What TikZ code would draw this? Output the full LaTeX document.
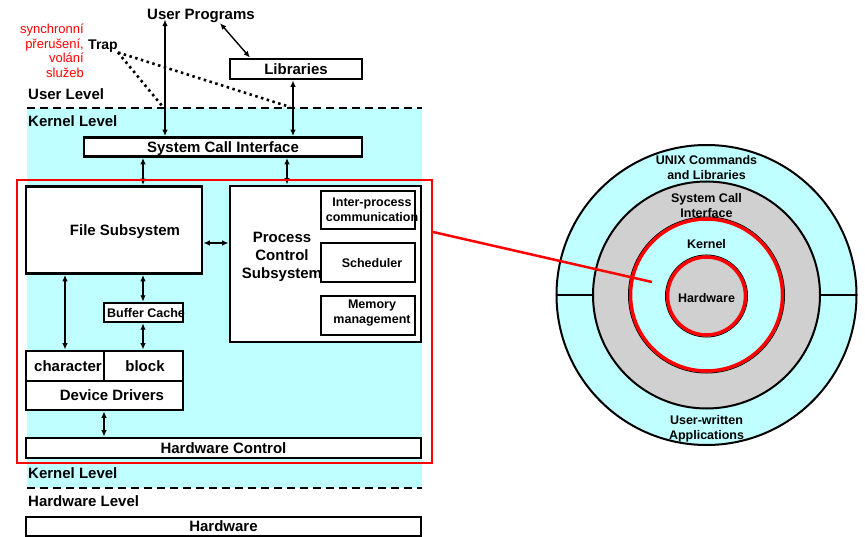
\documentclass[tikz,border=0pt]{standalone}
\usepackage{fontspec}
\setmainfont{Liberation Sans}
\usetikzlibrary{arrows.meta}
\definecolor{kcyan}{RGB}{192,255,255}
\definecolor{kgray}{RGB}{208,208,208}
\definecolor{kred}{RGB}{255,0,0}
\begin{document}
\begin{tikzpicture}[x=1pt,y=-1pt,
  lbl/.style={inner sep=0pt, font=\bfseries\fontsize{15}{18}\selectfont, text height=10.8pt, text depth=0pt},
  lvl/.style={lbl, anchor=west},
  small/.style={inner sep=0pt, font=\bfseries\fontsize{12.5}{15}\selectfont, align=center},
  box/.style={draw, line width=2.8pt, fill=white, inner sep=0pt, font=\bfseries\fontsize{15}{18}\selectfont, text height=10.8pt, text depth=0pt},
  thinbox/.style={draw, line width=1.3pt, fill=white, inner sep=0pt},
  dar/.style={line width=1.4pt, {Latex[length=6.5pt,width=5.5pt]}-{Latex[length=6.5pt,width=5.5pt]}},
  levelline/.style={dash pattern=on 8pt off 5pt, line width=2.6pt},
  trapline/.style={dash pattern=on 2.5pt off 3.5pt, line width=2.6pt},
]
\useasboundingbox (0,0) rectangle (865,537);

% kernel-level background
\fill[kcyan] (27,108) rectangle (422,488);
\draw[levelline] (27,108) -- (422,108);
\draw[levelline] (27,488) -- (422,488);

% level captions
\node[lvl] (ul) at (28,94) {User Level};
\node[lvl] (kl1) at (28,121) {Kernel Level};
\node[lvl] (kl2) at (28,473) {Kernel Level};
\node[lvl] (hl) at (28,501) {Hardware Level};

% user space
\node[lbl] (up) at (201,14) {User Programs};
\node[inner sep=0pt, font=\bfseries\fontsize{14}{17}\selectfont] (trap) at (103,46) {Trap};
\node[inner sep=0pt, anchor=east, align=right, text=kred, font=\fontsize{13}{14.5}\selectfont] (sync) at (84,51)
  {synchronní\\přerušení,\\volání\\služeb};
\node[box, minimum width=132pt, minimum height=20pt] (lib) at (296,69) {Libraries};
\node[box, minimum width=278pt, minimum height=19pt] (sci) at (223,147) {System Call Interface};

% kernel blocks
\node[box, minimum width=176pt, minimum height=87pt] (fs) at (114,230) {};
\node[lbl] (fst) at (125,230) {File Subsystem};
\node[box, minimum width=191pt, minimum height=156pt] (pcs) at (325.5,264) {};
\node[inner sep=0pt, align=center, font=\bfseries\fontsize{15}{18}\selectfont] (pcst) at (282,257) {Process\\Control\\Subsystem};
\node[thinbox, minimum width=94pt, minimum height=38pt] (ipc) at (368,210) {};
\node[small] (ipct) at (372,210) {Inter-process\\communication};
\node[thinbox, minimum width=94pt, minimum height=39pt] (sch) at (368,262.5) {};
\node[small] (scht) at (372,263) {Scheduler};
\node[thinbox, minimum width=94pt, minimum height=39pt] (mem) at (368,315.5) {};
\node[small] (memt) at (372,313) {Memory\\management};
\node[box, line width=2.4pt, minimum width=79pt, minimum height=19pt] (bc) at (143.5,312.5) {};
\node[small] (bct) at (146,313) {Buffer Cache};
\node[box, minimum width=157pt, minimum height=59pt] (dd) at (104.5,380.5) {};
\draw[line width=2.8pt] (dd.west |- 0,381) -- (dd.east |- 0,381);
\draw[line width=1.3pt] (104,352) -- (104,381);
\node[lbl] (chr) at (68,366) {character};
\node[lbl] (blk) at (145,366) {block};
\node[lbl] (ddt) at (112,395) {Device Drivers};
\node[box, minimum width=395pt, minimum height=20pt] (hc) at (223.5,448) {Hardware Control};
\node[box, minimum width=395pt, minimum height=19pt] (hw) at (223.5,526.5) {Hardware};

% connectors
\draw[dar] (up.south -| 165,0) -- (sci.north -| 165,0);
\draw[dar] ([xshift=19pt,yshift=-3.5pt]up.south) -- ([xshift=-46pt]lib.north);
\draw[dar] (lib.south -| 293,0) -- (sci.north -| 293,0);
\draw[dar] (sci.south -| 143,0) -- (fs.north -| 143,0);
\draw[dar] (sci.south -| 287,0) -- (pcs.north -| 287,0);
\draw[dar] (fs.east |- 0,243) -- (pcs.west |- 0,243);
\draw[dar] (fs.south -| 143,0) -- (bc.north -| 143,0);
\draw[dar] (bc.south -| 143,0) -- (dd.north -| 143,0);
\draw[dar] (fs.south -| 65,0) -- (dd.north -| 65,0);
\draw[dar] (dd.south -| 104,0) -- (hc.north -| 104,0);

% trap lines
\draw[trapline] (trap.south east) -- (163,107);
\draw[trapline] (trap.south east) -- (290,107);

% highlighted kernel part
\node[draw=kred, line width=2.2pt, minimum width=415pt, minimum height=283pt, inner sep=0pt] (core) at (224.5,321.5) {};

% layered rings
\draw[fill=kcyan, line width=2pt] (706.5,295) circle[radius=150pt];
\draw[line width=2pt] (556.5,295) -- (856.5,295);
\draw[fill=kgray, line width=2pt] (706.5,295) circle[radius=113.5pt];
\draw[line width=1pt] (706.5,295) circle[radius=78pt];
\draw[fill=kcyan, draw=kred, line width=3.5pt] (706.5,295) circle[radius=76pt];
\draw[line width=1pt] (706.5,296) circle[radius=41pt];
\draw[fill=kgray, draw=kred, line width=3.5pt] (706.5,296) circle[radius=39pt];
\node[small] (unix) at (706.5,168) {UNIX Commands\\and Libraries};
\node[small] (scl) at (706.5,206) {System Call\\Interface};
\node[small] (kern) at (706.5,244) {Kernel};
\node[small] (hwc) at (706.5,298) {Hardware};
\node[small] (uwa) at (706.5,428.5) {User-written\\Applications};

% pointer from the kernel block to the kernel ring
\coordinate (kpt) at (652,282);
\draw[kred, line width=2.5pt] (core.east |- 0,232) -- (kpt);
\end{tikzpicture}
\end{document}
